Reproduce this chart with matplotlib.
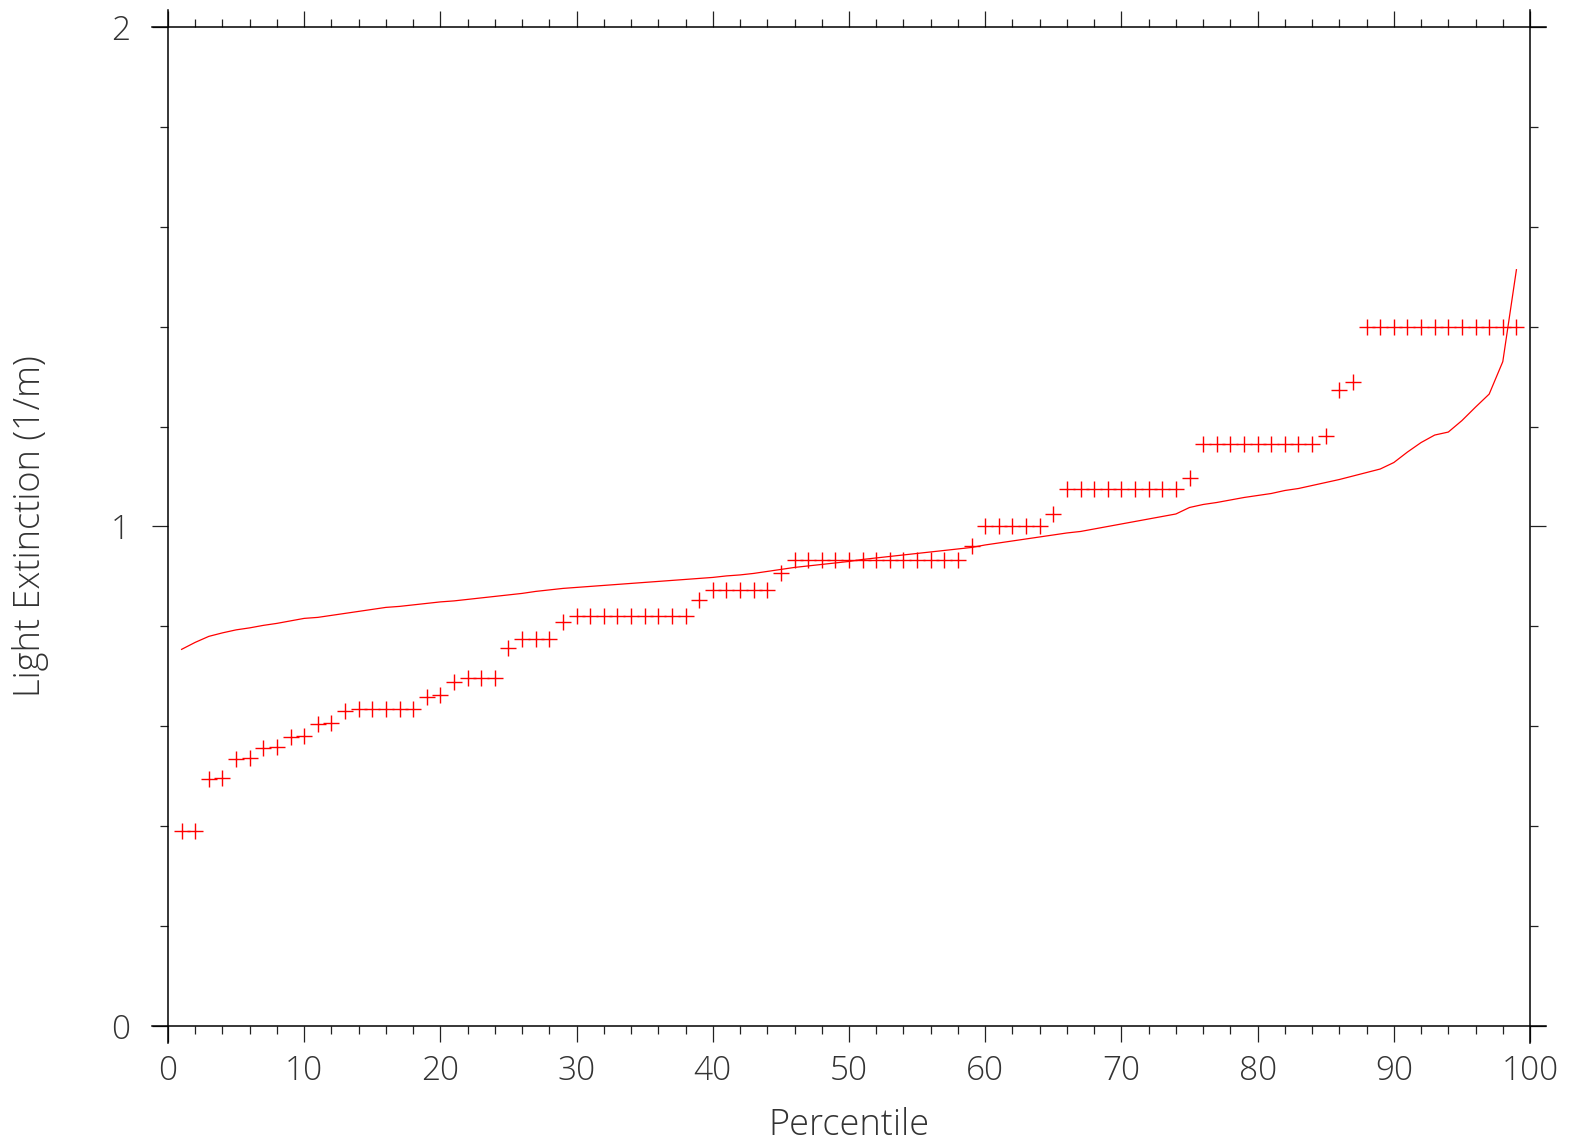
import matplotlib
matplotlib.use("Agg")
import matplotlib.pyplot as plt
from matplotlib.ticker import MultipleLocator

plt.rcParams["font.family"] = ["Open Sans", "DejaVu Sans"]

# percentile positions of the scatter and the line
percentiles = list(range(1, 100))

# observed light extinction (plus markers)
observed = [
    0.39, 0.39, 0.495, 0.497, 0.534, 0.536, 0.556, 0.559, 0.579, 0.581,
    0.604, 0.606, 0.631, 0.635, 0.635, 0.635, 0.635, 0.635, 0.659, 0.663,
    0.689, 0.697, 0.697, 0.697, 0.756, 0.775, 0.775, 0.775, 0.808, 0.821,
    0.821, 0.821, 0.821, 0.821, 0.821, 0.821, 0.821, 0.821, 0.853, 0.873,
    0.873, 0.873, 0.873, 0.873, 0.906, 0.932, 0.932, 0.932, 0.932, 0.932,
    0.932, 0.932, 0.932, 0.932, 0.932, 0.932, 0.932, 0.932, 0.960, 1.0,
    1.0, 1.0, 1.0, 1.0, 1.025, 1.075, 1.075, 1.075, 1.075, 1.075,
    1.075, 1.075, 1.075, 1.075, 1.098, 1.165, 1.165, 1.165, 1.165, 1.165,
    1.165, 1.165, 1.165, 1.165, 1.182, 1.273, 1.289, 1.40, 1.40, 1.40,
    1.40, 1.40, 1.40, 1.40, 1.40, 1.40, 1.40, 1.40, 1.40,
]

# modelled light extinction (line)
modelled = [
    0.754, 0.768, 0.780, 0.787, 0.793, 0.797, 0.802, 0.806, 0.811, 0.816,
    0.818, 0.822, 0.826, 0.830, 0.834, 0.838, 0.840, 0.843, 0.846, 0.849,
    0.851, 0.854, 0.857, 0.860, 0.863, 0.866, 0.870, 0.873, 0.876, 0.878,
    0.880, 0.882, 0.884, 0.886, 0.888, 0.890, 0.892, 0.894, 0.896, 0.898,
    0.901, 0.903, 0.906, 0.910, 0.914, 0.918, 0.921, 0.924, 0.927, 0.930,
    0.934, 0.937, 0.940, 0.943, 0.946, 0.949, 0.952, 0.955, 0.958, 0.963,
    0.967, 0.971, 0.975, 0.979, 0.983, 0.987, 0.990, 0.995, 1.000, 1.005,
    1.010, 1.015, 1.020, 1.025, 1.038, 1.044, 1.048, 1.053, 1.058, 1.062,
    1.066, 1.072, 1.076, 1.082, 1.088, 1.094, 1.101, 1.108, 1.115, 1.128,
    1.149, 1.168, 1.183, 1.189, 1.212, 1.239, 1.265, 1.330, 1.514,
]

text_color = "#333333"

fig = plt.figure(figsize=(15.7, 11.43), dpi=100)
ax = fig.add_axes([0.0968, 0.0875, 0.8879, 0.9038])

ax.plot(percentiles, modelled, color="red", linewidth=0.9)
ax.plot(percentiles, observed, linestyle="none", marker="+", color="red",
        markersize=11, markeredgewidth=1.0)

ax.set_xlim(-1.175, 101.17)
ax.set_ylim(-0.034, 2.034)

# spines cross at the data limits and run a little past them
ax.spines["left"].set_position(("data", 0))
ax.spines["right"].set_position(("data", 100))
ax.spines["bottom"].set_position(("data", 0))
ax.spines["top"].set_position(("data", 2))
for s in ax.spines.values():
    s.set_linewidth(1.1)
    s.set_color("black")

ax.xaxis.set_major_locator(MultipleLocator(10))
ax.xaxis.set_minor_locator(MultipleLocator(2))
ax.yaxis.set_major_locator(MultipleLocator(1))
ax.yaxis.set_minor_locator(MultipleLocator(0.2))

ax.tick_params(which="both", direction="out", top=True, right=True,
               bottom=True, left=True, width=0.9, color="#222222")
ax.tick_params(which="major", length=11.5)
ax.tick_params(which="minor", length=6)
ax.tick_params(axis="both", labelsize=24, labelcolor=text_color)
ax.tick_params(axis="x", pad=9)
ax.tick_params(axis="y", pad=16)
for lbl in ax.get_xticklabels() + ax.get_yticklabels():
    lbl.set_fontweight("light")

ax.set_xlabel("Percentile", fontsize=26, color=text_color,
              fontweight="light")
ax.set_ylabel("Light Extinction (1/m)", fontsize=26, color=text_color,
              fontweight="light")
ax.xaxis.set_label_coords(0.5, -0.062)
ax.yaxis.set_label_coords(-0.074, 0.5)

fig.savefig("out.png", dpi=100)
